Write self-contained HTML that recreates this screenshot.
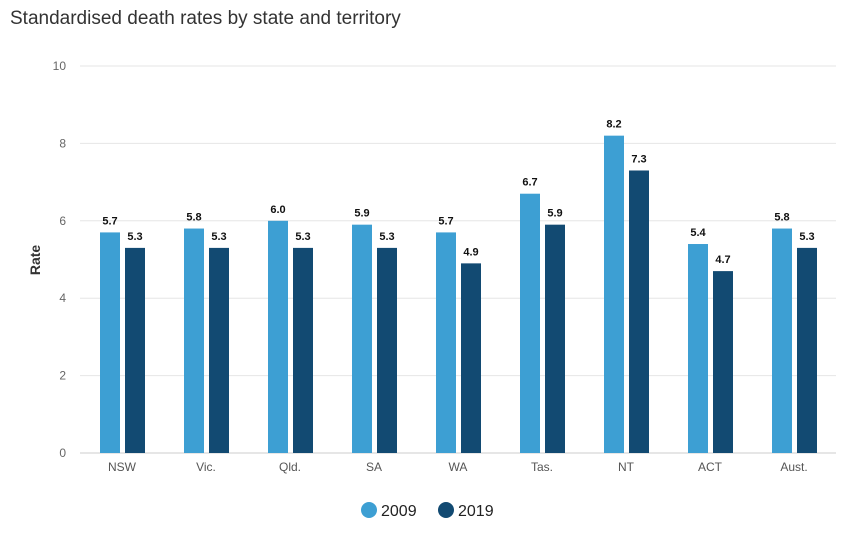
<!DOCTYPE html>
<html><head><meta charset="utf-8"><style>
body{margin:0;background:#fff;font-family:"Liberation Sans",sans-serif;}
svg text{font-family:"Liberation Sans",sans-serif;}
</style></head><body>
<svg id="chart" width="860" height="545">
<text x="10" y="24" font-size="19" fill="#333">Standardised death rates by state and territory</text>
<text transform="translate(40,260) rotate(-90)" text-anchor="middle" font-size="14" font-weight="bold" fill="#333">Rate</text>
<g id="grid"></g><g id="bars"></g><g id="labels"></g>
<g>
<g><circle cx="369" cy="510" r="8" fill="#3d9fd3"/><text x="381" y="516" font-size="16" fill="#222">2009</text></g>
<g><circle cx="446" cy="510" r="8" fill="#124a72"/><text x="458" y="516" font-size="16" fill="#222">2019</text></g>
</g>
</svg>
<script>
const categories=["NSW","Vic.","Qld.","SA","WA","Tas.","NT","ACT","Aust."];
const values2009=[5.7,5.8,6.0,5.9,5.7,6.7,8.2,5.4,5.8];
const values2019=[5.3,5.3,5.3,5.3,4.9,5.9,7.3,4.7,5.3];
const yTicks=[0,2,4,6,8,10];
const NS="http://www.w3.org/2000/svg";
const x0=80,x1=836,yTop=66,yBot=453,yMax=10;
const bw=(x1-x0)/categories.length;
const y=v=>yBot-(v/yMax)*(yBot-yTop);
function mk(tag,attrs,parent,txt){const e=document.createElementNS(NS,tag);for(const k in attrs)e.setAttribute(k,attrs[k]);if(txt!==undefined)e.textContent=txt;document.getElementById(parent).appendChild(e);return e;}
yTicks.forEach(t=>{
 const l=mk("line",{x1:x0,x2:x1,y1:y(t),y2:y(t),stroke:t===0?"#ccc":"#e6e6e6","stroke-width":1},"grid");
 
 
 const tx=mk("text",{x:66,y:y(t)+4,"text-anchor":"end","font-size":12,fill:"#666"},"grid",t);
 
 
});
categories.forEach((c,i)=>{
 const cx=x0+bw*(i+0.5);
 const tx=mk("text",{x:cx,y:yBot+18,"text-anchor":"middle","font-size":12,fill:"#555"},"labels",c);
 
 
 [[values2009[i],"#3d9fd3",cx-22],[values2019[i],"#124a72",cx+3]].forEach((s,j)=>{
  const r=mk("rect",{x:s[2],y:y(s[0]),width:20,height:yBot-y(s[0]),fill:s[1]},"bars");
  
  
  const v=mk("text",{x:s[2]+10,y:y(s[0])-8,"text-anchor":"middle","font-size":11,"font-weight":"bold",fill:"#111"},"labels",s[0].toFixed(1));
  
  
 });
});
</script>
</body></html>
